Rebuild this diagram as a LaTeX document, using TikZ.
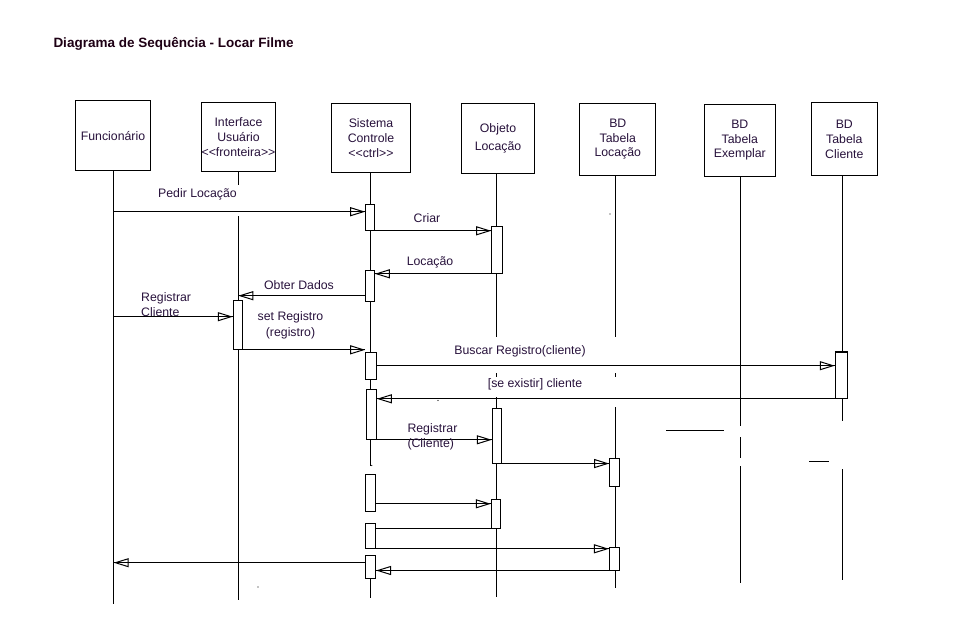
\documentclass[tikz,border=0pt]{standalone}
\usepackage{fontspec}
\setmainfont{Liberation Sans}[Ligatures=TeXOff]
\usetikzlibrary{arrows.meta,calc}
\definecolor{txt}{RGB}{40,18,60}
\definecolor{ttl}{RGB}{30,0,20}
\begin{document}
\begin{tikzpicture}[x=1pt,y=-1pt,
  line width=1pt,
  obj/.style={draw, fill=white, align=center, inner sep=0pt, text=txt,
    font=\fontsize{12.3}{14.7}\selectfont},
  act/.style={draw, fill=white, inner sep=0pt, minimum width=10pt},
  life/.style={line width=1pt},
  lbl/.style={inner sep=0pt, text=txt, font=\fontsize{12.3}{15}\selectfont},
  msg/.style={-{Triangle[open,length=15pt,width=9pt]}, postaction={draw,-}},
  speck/.style={fill=black, inner sep=0pt, minimum size=1.2pt, circle}]
\useasboundingbox (0,0) rectangle (962,635);

% title
\node[anchor=west, inner sep=0pt, text=ttl,
  font=\fontsize{13.5}{16}\selectfont\bfseries] (title) at (53,43.5)
  {Diagrama de Sequência - Locar Filme};

% participants
\node[obj, minimum width=74.6pt, minimum height=70.7pt] (f) at (113,135.6) {Funcionário};
\node[obj, minimum width=73.6pt, minimum height=69.3pt] (i) at (238.5,137.3) {Interface\\Usuário\\<<fronteira>>};
\node[obj, minimum width=78.6pt, minimum height=69.7pt] (s) at (371,138.1) {Sistema\\Controle\\<<ctrl>>};
\node[obj, minimum width=72.6pt, minimum height=70.7pt,
  font=\fontsize{12.3}{17.7}\selectfont] (o) at (498,138.6) {Objeto\\Locação};
\node[obj, minimum width=76.3pt, minimum height=72pt] (l) at (617.8,139.3) {BD\\Tabela\\Locação};
\node[obj, minimum width=71pt, minimum height=72pt] (e) at (739.8,140.3) {BD\\Tabela\\Exemplar};
\node[obj, minimum width=66pt, minimum height=73pt] (c) at (844.3,139.3) {BD\\Tabela\\Cliente};

% lifeline end points and gaps
\coordinate (fE) at (113.7,604);
\coordinate (iA) at (238.3,185);
\coordinate (iB) at (238.3,216);
\coordinate (iE) at (238.3,600);
\coordinate (sA) at (370.7,465.7);
\coordinate (sB) at (370.7,578);
\coordinate (sE) at (370.7,598);
\coordinate (oA) at (496.3,337);
\coordinate (oT1) at (496.3,373);
\coordinate (oT2) at (496.3,376.5);
\coordinate (oB) at (496.3,397);
\coordinate (oE) at (496.3,597);
\coordinate (lA) at (615.3,337);
\coordinate (lT1) at (615.3,373);
\coordinate (lT2) at (615.3,377);
\coordinate (lB) at (615.3,407);
\coordinate (lE) at (615.3,588);
\coordinate (eA) at (740.3,425.7);
\coordinate (eB) at (740.3,437.3);
\coordinate (eC) at (740.3,457.7);
\coordinate (eD) at (740.3,466);
\coordinate (eE) at (740.3,583);
\coordinate (cA) at (842.3,420.7);
\coordinate (cB) at (842.3,469);
\coordinate (cE) at (842.3,580);

% lifelines
\draw[life] (f.south -| fE) -- (fE);
\draw[life] (i.south -| iA) -- (iA);
\draw[life] (iB) -- (iE);
\draw[life] (s.south -| sA) -- (sA);
\draw[life] (sB) -- (sE);
\draw[life] (o.south -| oA) -- (oA);
\draw[life] (oT1) -- (oT2);
\draw[life] (oB) -- (oE);
\draw[life] (l.south -| lA) -- (lA);
\draw[life] (lT1) -- (lT2);
\draw[life] (lB) -- (lE);
\draw[life] (e.south -| eA) -- (eA);
\draw[life] (eB) -- (eC);
\draw[life] (eD) -- (eE);
\draw[life] (c.south -| cA) -- (cA);
\draw[life] (cB) -- (cE);

% loose strokes
\coordinate (h1a) at (666,430.3);
\coordinate (h1b) at (723.7,430.3);
\coordinate (h2a) at (809,461.3);
\coordinate (h2b) at (829,461.3);
\draw (h1a) -- (h1b);
\draw (h2a) -- (h2b);
\node[speck] (d1) at (610,214) {};
\node[speck] (d2) at (438,400.5) {};
\node[speck] (d3) at (258,587) {};
\node[speck] (d4) at (371.8,465.5) {};

% activations
\node[act, minimum width=8.6pt, minimum height=26pt] (s1) at (370,217.3) {};
\node[act, minimum width=10.6pt, minimum height=47pt] (o1) at (497,249.8) {};
\node[act, minimum width=8.6pt, minimum height=31pt] (s2) at (370,285.5) {};
\node[act, minimum width=9.4pt, minimum height=49pt] (i1) at (238,324.8) {};
\node[act, minimum width=10.6pt, minimum height=26.7pt] (s3) at (371,365.7) {};
\node[act, minimum width=12pt, minimum height=45.6pt] (c1) at (841.3,375.5) {};
\draw[line width=2pt] (c1.north west) -- (c1.north east);
\node[act, minimum width=10.3pt, minimum height=50pt] (s4) at (371.2,414.3) {};
\node[act, minimum width=9.4pt, minimum height=54.7pt] (o2) at (497,435.7) {};
\node[act, minimum width=9.6pt, minimum height=28pt] (l1) at (614.5,472.3) {};
\node[act, minimum width=10pt, minimum height=37pt] (s5) at (370.5,492.8) {};
\node[act, minimum width=9.4pt, minimum height=29pt] (o3) at (496,513.8) {};
\node[act, minimum width=10pt, minimum height=25pt] (s6) at (370.5,535.8) {};
\node[act, minimum width=10.5pt, minimum height=23pt] (l2) at (614.7,558.5) {};
\node[act, minimum width=10pt, minimum height=23pt] (s7) at (370.5,567) {};

% messages
\coordinate (fPed) at (113.7,211.7);
\draw[msg] (fPed) -- (fPed -| s1.west);
\node[lbl] (tPed) at (197.5,194) {Pedir Locação};

\draw[msg] (s1.south east) -- (s1.south east -| o1.west);
\node[lbl] (tCri) at (427,218) {Criar};

\draw[msg] (o1.south west) -- (o1.south west -| s2.east);
\node[lbl] (tLoc) at (430,262) {Locação};

\coordinate (iObt) at (238.3,295.7);
\draw[msg] (iObt -| s2.west) -- (iObt);
\node[lbl] (tObt) at (299,284.7) {Obter Dados};

\coordinate (fReg) at (113.7,316.7);
\draw[msg] (fReg) -- (fReg -| i1.west);
\node[lbl, anchor=west, align=left] (tReg) at (140.7,304.2) {Registrar\\Cliente};

\draw[msg] (i1.south east) -- (i1.south east -| s3.west);
\node[lbl, align=center, font=\fontsize{12.3}{15.6}\selectfont] (tSet) at (290.5,325.5) {set Registro\\(registro)};

\draw[msg] (s3.east) -- (s3.east -| c1.west);
\node[lbl] (tBus) at (520,351.7) {Buscar Registro(cliente)};

\draw[msg] (c1.south west) -- (c1.south west -| s4.east);
\node[lbl] (tSe) at (535,384.3) {[se existir] cliente};

\draw[msg] (s4.south east) -- (s4.south east -| o2.west);
\node[lbl, anchor=west, align=left] (tRC) at (407,436.8) {Registrar\\(Cliente)};

\draw[msg] (o2.south east) -- (o2.south east -| l1.west);

\coordinate (o3in) at ($(o3.north west)+(0,5)$);
\draw[msg] (o3in -| s5.east) -- (o3in);

\draw (o3.south west) -- (o3.south west -| s6.east);

\draw[msg] (s6.south west) -- (s6.south west -| l2.west);

\coordinate (fRet) at (113.7,562.7);
\draw[msg] (fRet -| s7.west) -- (fRet);

\draw[msg] (l2.south west) -- (l2.south west -| s7.east);
\end{tikzpicture}
\end{document}
